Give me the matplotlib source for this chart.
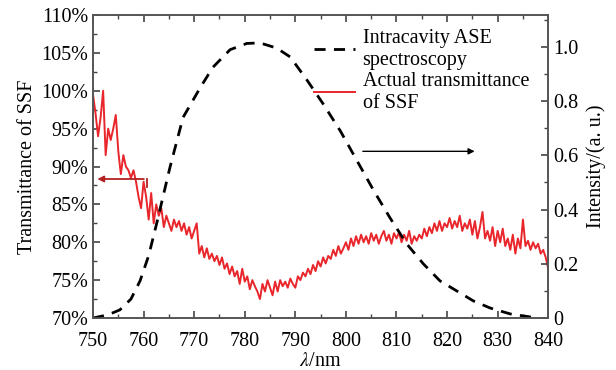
import numpy as np
import matplotlib
matplotlib.use("Agg")
import matplotlib.pyplot as plt
from matplotlib.ticker import MultipleLocator, FuncFormatter

plt.rcParams['font.family'] = ['Liberation Serif', 'DejaVu Serif']
plt.rcParams['mathtext.fontset'] = 'stix'

# transmittance of SSF (%), 0.5 nm step from 750 to 840 nm
wl_t = np.arange(750.0, 840.01, 0.5)
trans = [
    99.5, 97.0, 94.0, 96.5, 100.0, 91.5, 95.0, 93.5, 95.0, 96.8,
    92.0, 89.0, 91.5, 90.0, 89.5, 88.5, 89.5, 88.0, 86.0, 84.5,
    88.0, 86.0, 83.0, 86.5, 82.5, 85.0, 83.5, 84.5, 82.0, 83.5,
    82.5, 81.5, 83.0, 82.0, 82.8, 81.5, 82.5, 81.0, 82.0, 80.5,
    81.5, 82.5, 78.5, 79.5, 78.0, 79.2, 77.8, 78.5, 77.5, 78.2,
    77.0, 78.0, 76.5, 77.2, 75.8, 76.8, 75.5, 76.2, 74.5, 76.5,
    74.8, 75.5, 73.8, 75.0, 74.2, 73.5, 72.5, 74.5, 73.5, 75.0,
    74.0, 73.0, 74.8, 73.5, 75.0, 74.2, 74.8, 74.0, 75.2, 74.5,
    74.0, 75.5, 75.0, 76.0, 75.5, 76.5, 75.8, 77.0, 76.2, 77.5,
    76.8, 78.0, 77.2, 78.2, 77.8, 79.0, 78.2, 79.5, 78.5, 79.2,
    80.0, 79.0, 80.5, 79.5, 80.8, 79.8, 81.0, 80.0, 80.8, 79.8,
    81.2, 80.2, 81.0, 79.8, 80.8, 81.5, 80.2, 81.0, 79.8, 81.2,
    80.5, 81.3, 80.0, 81.0, 80.2, 81.5, 79.8, 80.8, 80.2, 81.0,
    80.5, 81.8, 80.8, 82.0, 81.2, 82.5, 81.5, 82.8, 81.5, 82.5,
    82.0, 83.2, 81.8, 82.8, 82.0, 83.5, 81.5, 82.5, 81.8, 83.0,
    81.0, 82.8, 80.5, 82.0, 84.0, 80.5, 81.5, 80.2, 82.0, 79.5,
    81.5, 80.0, 81.8, 79.5, 80.5, 79.0, 81.0, 78.5, 80.5, 79.2,
    83.0, 79.5, 80.2, 79.0, 80.0, 79.2, 79.8, 78.5, 79.0, 78.0,
    76.5,
]

# intracavity ASE spectrum (a.u.)
wl_ase = [750.0, 753.0, 755.3, 757.5, 759.3, 761.0, 762.6, 765.2, 767.8, 771.2,
          773.7, 777.1, 780.4, 783.0, 786.3, 789.0, 792.3, 795.5, 798.9, 802.2,
          805.5, 808.7, 812.0, 815.3, 818.6, 821.9, 825.2, 828.5, 832.5, 836.4, 838.0]
ase = [0.0, 0.012, 0.03, 0.07, 0.137, 0.23, 0.35, 0.555, 0.74, 0.85,
       0.925, 0.99, 1.013, 1.015, 0.996, 0.963, 0.878, 0.79, 0.69, 0.58,
       0.47, 0.37, 0.274, 0.2, 0.137, 0.1, 0.063, 0.037, 0.015, 0.004, 0.0]

fig = plt.figure(figsize=(6.16, 3.70), dpi=100)
ax = fig.add_axes([0.151, 0.1405, 0.739, 0.819])
ax2 = ax.twinx()

l1, = ax.plot(wl_t, trans, color='#e8262b', lw=1.4)
l2, = ax2.plot(wl_ase, ase, color='black', lw=2.0, ls=(0, (4, 3)))

ax.set_xlim(750, 840)
ax.set_ylim(70, 110)
ax2.set_ylim(0, 1.118)

ax.xaxis.set_major_locator(MultipleLocator(10))
ax.xaxis.set_minor_locator(MultipleLocator(5))
ax.yaxis.set_major_locator(MultipleLocator(5))
ax.yaxis.set_minor_locator(MultipleLocator(2.5))
ax.yaxis.set_major_formatter(FuncFormatter(lambda v, p: f"{v:.0f}%"))
ax2.yaxis.set_major_locator(MultipleLocator(0.2))
ax2.yaxis.set_minor_locator(MultipleLocator(0.1))
ax2.yaxis.set_major_formatter(FuncFormatter(lambda v, p: "0" if abs(v) < 1e-9 else f"{v:.1f}"))

ax.tick_params(which='both', direction='in', top=True, right=False, labelsize=14.5, color='#444444')
ax.tick_params(axis='x', pad=10)
ax.tick_params(which='major', length=5, width=1.2)
ax.tick_params(which='minor', length=3, width=1.0)
ax2.tick_params(which='both', direction='in', labelsize=14.5, color='#444444')
ax2.tick_params(which='major', length=5, width=1.2)
ax2.tick_params(which='minor', length=3, width=1.0)
for a in (ax, ax2):
    for s in a.spines.values():
        s.set_color('#555555')
        s.set_linewidth(1.2)

ax.set_xlabel(r'$\lambda$/nm', fontsize=14.5, labelpad=1)
ax.set_ylabel('Transmittance of SSF', fontsize=14.5, labelpad=3)
ax2.set_ylabel('Intensity/(a. u.)', fontsize=14.5, labelpad=6)

ax.annotate('', xy=(750.3, 88.35), xytext=(760.6, 88.35),
            arrowprops=dict(arrowstyle='-|>', color='#b22222', lw=1.3, mutation_scale=9))
ax.plot([760.6, 760.6], [88.35, 87.3], color='#b22222', lw=1.3)
ax2.annotate('', xy=(826.0, 0.615), xytext=(802.8, 0.615),
             arrowprops=dict(arrowstyle='-|>', color='black', lw=1.0, mutation_scale=9))

ax2.legend([l2, l1], ['Intracavity ASE\nspectroscopy', 'Actual transmittance\nof SSF'],
           loc='upper left', bbox_to_anchor=(0.455, 1.0), frameon=False, fontsize=14.5,
           handlelength=2.0, handletextpad=0.4, labelspacing=0.1, borderaxespad=0.3)

fig.savefig('out.png', dpi=100)
